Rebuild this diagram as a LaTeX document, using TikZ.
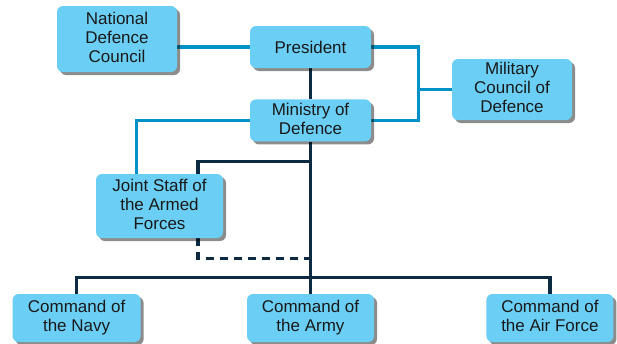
\documentclass[tikz,border=0pt]{standalone}
\usepackage{fontspec}
\setmainfont{Liberation Sans}
\usepackage{xcolor}
\usepackage{tikz}
\usetikzlibrary{positioning,shapes,shadows,calc}
\pgfdeclarelayer{bg}
\pgfsetlayers{bg,main}
\definecolor{boxblue}{RGB}{107,207,245}
\definecolor{linkblue}{RGB}{0,145,200}
\definecolor{navyline}{RGB}{12,42,66}

\begin{document}
\begin{tikzpicture}[x=1pt, y=-1pt,
unit/.style={rectangle, rounded corners=6pt, fill=boxblue, align=center, inner sep=2pt, text=black!90, font=\fontsize{17}{19}\selectfont, execute at begin node={\rule{0pt}{15.6pt}}, execute at end node={\rule[-3.6pt]{0pt}{3.6pt}}, drop shadow={shadow xshift=3pt, shadow yshift=-3pt, fill=black, opacity=0.45}},
advise/.style={draw=linkblue, line width=3.2pt},
command/.style={draw=navyline, line width=3.2pt},
]
\useasboundingbox (0,0) rectangle (617,343);

\node[unit, minimum width=120pt, minimum height=66pt] (ndc) at (117,39) {National\\Defence\\Council};
\node[unit, minimum width=121pt, minimum height=42pt] (president) at (310.5,47) {President};
\node[unit, minimum width=121pt, minimum height=42pt] (ministry) [below=31pt of president] {Ministry of\\Defence};
\node[unit, minimum width=120pt, minimum height=61pt] (military) at (512,89.5) {Military\\Council of\\Defence};
\node[unit, minimum width=127pt, minimum height=64pt] (joint) at (159.5,206) {Joint Staff of\\the Armed\\Forces};
\node[unit, minimum width=127pt, minimum height=48pt] (army) at (310.5,318) {Command of\\the Army};
\node[unit, minimum width=128pt, minimum height=48pt] (navy) [left=106pt of army] {Command of\\the Navy};
\node[unit, minimum width=127pt, minimum height=48pt] (airforce) [right=112pt of army] {Command of\\the Air Force};

\begin{pgfonlayer}{bg}
%Advisory links
\coordinate (mcd_bus) at ($(president.east)+(47,0)$);
\draw[advise] (president.west) -- (president.west -| ndc.east);
\draw[advise] (president.east) -- (mcd_bus) |- (ministry.east);
\draw[advise] (mcd_bus |- military.west) -- (military.west);
\draw[advise] (ministry.west) -| ([xshift=-23pt]joint.north);

%Chain of command
\coordinate (js_link) at ($(ministry.south)+(0,20)$);
\coordinate (bus) at ($(army.north)+(0,-16)$);
\draw[command] (president.south) -- (ministry.north);
\draw[command] (ministry.south) -- (army.north);
\draw[command] (js_link) -| ([xshift=38.5pt]joint.north);
\draw[command, dash pattern=on 8pt off 6pt] ([xshift=38.5pt]joint.south) |- ($(ministry.south)+(0,117)$);

%Commands
\draw[command] (navy.north) |- (bus) -| (airforce.north);
\end{pgfonlayer}
\end{tikzpicture}
\end{document}
